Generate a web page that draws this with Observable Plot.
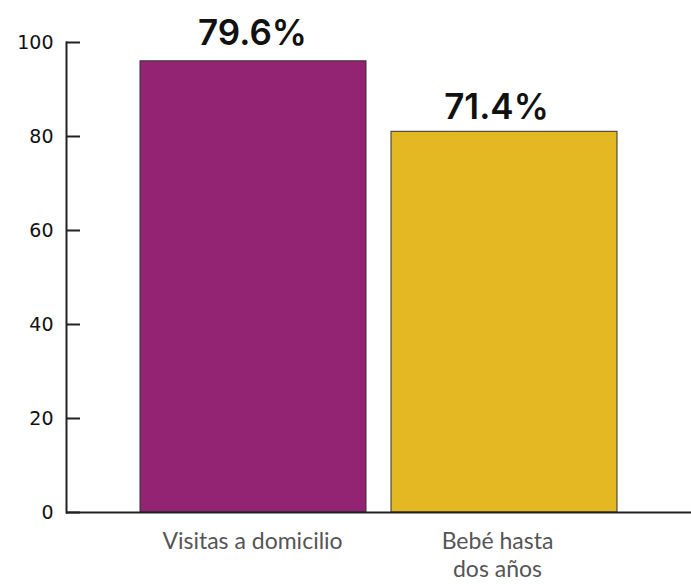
<!DOCTYPE html>
<html><head><meta charset="utf-8">
<script src="https://cdn.jsdelivr.net/npm/d3@7"></script>
<script src="https://cdn.jsdelivr.net/npm/@observablehq/plot@0.6"></script>
<style>body{margin:0;background:#fff}#chart svg{display:block}</style>
</head><body><div id="chart"></div>
<script>
const categories = ["Visitas a domicilio", "Bebé hasta\ndos años"];
const barValues = [96, 81];
const valueLabels = ["79.6%", "71.4%"];
const barColors = ["#932373", "#E3B823"];
const yTicks = [0, 20, 40, 60, 80, 100];

const data = categories.map((c, i) => ({category: c, value: barValues[i], label: valueLabels[i], color: barColors[i]}));

const W = 691, H = 584, ML = 66, TICK = 14;

const chart = Plot.plot({
  width: W,
  height: H,
  marginTop: 42,
  marginBottom: 72,
  marginLeft: ML,
  marginRight: 0,
  style: {background: "transparent", color: "#111"},
  x: {domain: categories, paddingInner: 0.1, paddingOuter: 0.295, label: null},
  y: {domain: [0, 100], ticks: yTicks, label: null},
  marks: [
    Plot.barY(data, {x: "category", y: "value", fill: "color", stroke: "#333", strokeWidth: 1}),
    Plot.frame({anchor: "left", stroke: "#222", strokeWidth: 2}),
    Plot.ruleY([0], {stroke: "#222", strokeWidth: 2}),
    Plot.tickY(yTicks, {y: d => d, insetRight: W - ML - TICK, stroke: "#222", strokeWidth: 2}),
    Plot.axisY(yTicks, {tickSize: 0, tickPadding: 13, fontSize: 19, fontFamily: "DejaVu Sans", fill: "#111", label: null}),
    Plot.axisX([categories[0]], {tickSize: 0, tickPadding: 17, fontSize: 23, fontFamily: "Lato", fill: "#555", lineHeight: 1.2, dx: -1, label: null}),
    Plot.axisX([categories[1]], {tickSize: 0, tickPadding: 17, fontSize: 23, fontFamily: "Lato", fill: "#555", lineHeight: 1.2, dx: -7, label: null}),
    Plot.text(data.filter((d, i) => i === 0), {x: "category", y: "value", text: "label", lineAnchor: "bottom", dy: -16, dx: -1, fontSize: 35, fontWeight: 600, fontFamily: "Inter", fill: "#111"}),
    Plot.text(data.filter((d, i) => i === 1), {x: "category", y: "value", text: "label", lineAnchor: "bottom", dy: -13, dx: -8, fontSize: 35, fontWeight: 600, fontFamily: "Inter", fill: "#111"})
  ]
});
document.getElementById("chart").append(chart);
</script>
</body></html>
